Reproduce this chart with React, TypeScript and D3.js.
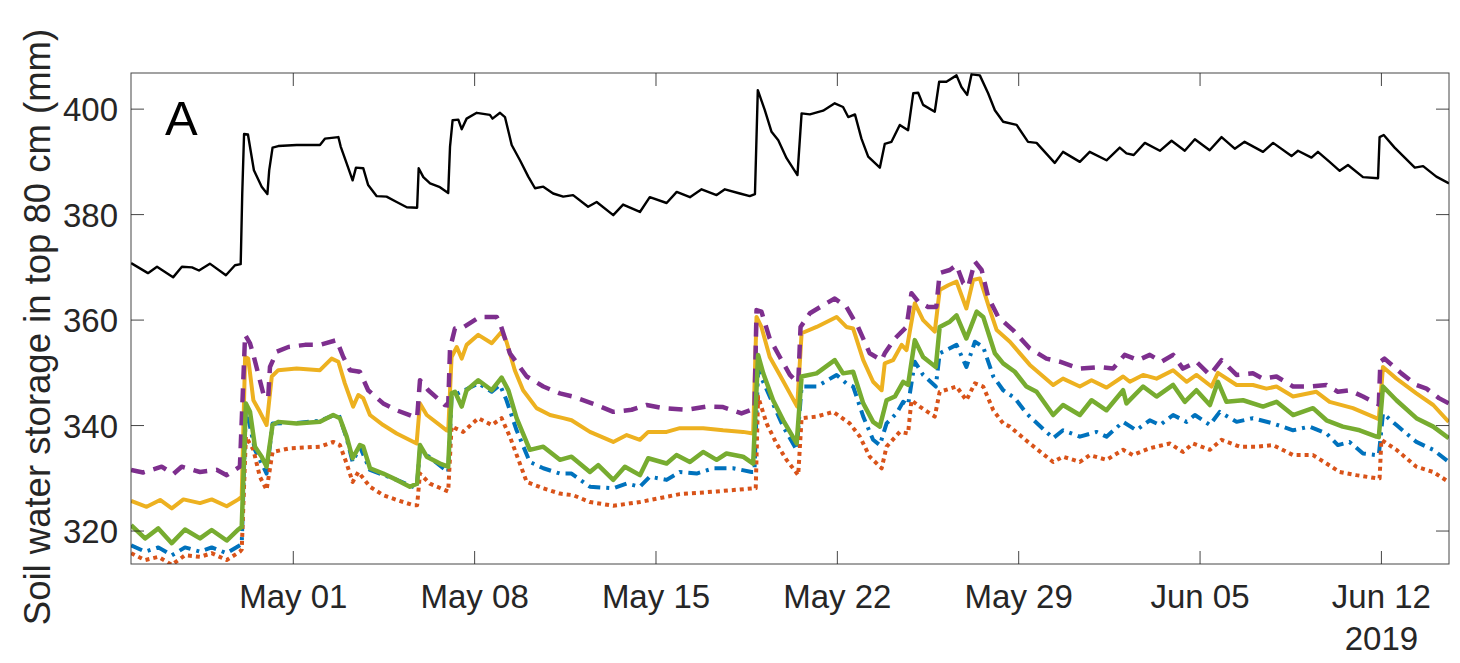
import React from 'react';
import * as d3 from 'd3';

// Time is stored as fractional days since 2019-04-30 00:00 (so 1 = May 01)
const BASE = Date.UTC(2019, 3, 30);
const DAY = 86400000;
const toDate = (d: number) => new Date(BASE + d * DAY);

const xDomainDays = [-5.264, 45.609];
const yDomain = [313.75, 406.85];
const xTickDays = [1, 8, 15, 22, 29, 36, 43];
const xTickLabels = ['May 01', 'May 08', 'May 15', 'May 22', 'May 29', 'Jun 05', 'Jun 12'];
const yTicks = [320, 340, 360, 380, 400];
const yearLabel = '2019';
const panelLabel = 'A';
const yLabel = 'Soil water storage in top 80 cm (mm)';

const blackT = [-5.26, -4.61, -4.26, -3.64, -3.30, -2.91, -2.64, -2.22, -1.60, -1.25, -1.03, -0.97, -0.90, -0.75, -0.52, -0.22, 0.0, 0.07, 0.20, 0.42, 1.13, 2.03, 2.22, 2.74, 2.83, 3.06, 3.29, 3.42, 3.70, 3.89, 4.22, 4.60, 4.99, 5.38, 5.78, 5.84, 6.02, 6.28, 6.66, 6.98, 7.05, 7.15, 7.37, 7.50, 7.69, 8.08, 8.59, 8.69, 8.98, 9.17, 9.43, 9.75, 10.07, 10.33, 10.65, 11.03, 11.42, 11.80, 12.38, 12.71, 13.35, 13.73, 14.38, 14.76, 15.41, 15.80, 16.31, 16.76, 17.34, 17.66, 18.24, 18.62, 18.82, 18.93, 19.20, 19.46, 19.72, 20.04, 20.46, 20.62, 20.94, 21.45, 21.90, 22.22, 22.42, 22.68, 22.93, 23.19, 23.64, 23.83, 24.09, 24.41, 24.73, 24.93, 25.12, 25.31, 25.76, 25.93, 26.21, 26.60, 26.79, 27.01, 27.18, 27.50, 27.82, 28.08, 28.40, 28.92, 29.36, 29.69, 30.39, 30.71, 31.36, 31.74, 32.39, 32.90, 33.16, 33.44, 33.87, 34.45, 34.90, 35.41, 35.80, 36.37, 36.83, 37.34, 37.72, 38.43, 38.82, 39.53, 39.78, 40.30, 40.55, 41.00, 41.39, 41.71, 42.29, 42.87, 42.93, 43.09, 43.51, 43.90, 44.29, 44.61, 45.12, 45.61];
const blackV = [370.8, 368.9, 370.1, 368.1, 370.1, 370.0, 369.4, 370.7, 368.5, 370.4, 370.6, 384.0, 395.3, 395.2, 388.4, 385.3, 383.9, 388.4, 392.7, 393.0, 393.2, 393.2, 394.4, 394.7, 392.9, 389.7, 386.5, 388.9, 388.8, 385.6, 383.5, 383.4, 382.4, 381.4, 381.3, 388.8, 387.1, 385.9, 385.2, 384.1, 392.9, 397.9, 398.0, 396.2, 398.2, 399.3, 398.9, 398.2, 399.3, 398.5, 393.2, 390.3, 387.2, 385.0, 385.3, 384.0, 383.4, 383.7, 381.5, 382.4, 379.9, 381.9, 380.5, 383.3, 382.2, 384.3, 383.3, 384.8, 383.7, 384.8, 384.0, 383.5, 383.9, 403.6, 399.8, 395.7, 394.1, 390.7, 387.5, 399.2, 399.0, 399.7, 401.1, 400.4, 398.5, 399.0, 394.4, 391.0, 388.9, 393.4, 393.8, 397.0, 396.0, 403.0, 403.1, 400.8, 399.5, 405.2, 405.2, 406.4, 404.2, 402.7, 406.6, 406.4, 403.0, 399.8, 397.6, 397.0, 393.8, 393.6, 389.8, 391.9, 390.0, 391.9, 390.3, 392.7, 391.6, 391.3, 393.6, 392.1, 394.0, 392.1, 394.3, 392.2, 394.7, 392.5, 393.8, 391.9, 393.6, 391.1, 392.1, 390.8, 391.9, 390.0, 388.3, 389.4, 387.1, 386.9, 394.7, 395.1, 392.7, 390.8, 388.9, 389.2, 387.2, 385.9];

const blueT = [-5.26, -4.72, -4.21, -3.69, -3.18, -2.60, -2.15, -1.57, -1.06, -0.99, -0.83, -0.48, -0.03, 0.20, 1.13, 2.03, 2.74, 3.06, 3.29, 3.57, 3.96, 4.99, 5.76, 5.89, 6.98, 7.11, 8.14, 8.66, 8.98, 9.23, 9.62, 10.13, 10.65, 11.29, 11.74, 12.45, 13.35, 13.87, 14.38, 14.76, 15.41, 15.92, 16.57, 17.21, 17.98, 18.69, 18.80, 18.94, 19.39, 19.91, 20.43, 20.62, 21.20, 21.97, 22.35, 22.61, 23.00, 23.38, 23.64, 23.90, 24.28, 24.54, 24.73, 24.99, 25.31, 25.80, 25.95, 26.60, 26.98, 27.31, 27.63, 28.02, 28.40, 28.85, 29.30, 30.33, 30.71, 31.36, 32.00, 32.39, 33.03, 33.54, 34.06, 34.45, 34.96, 35.48, 35.80, 36.38, 36.76, 37.41, 38.04, 38.82, 39.59, 40.23, 40.88, 41.32, 41.77, 42.29, 42.81, 42.90, 43.06, 43.58, 44.35, 45.00, 45.60];
const blueV = [317.3, 316.1, 316.9, 315.4, 316.9, 316.1, 316.9, 315.8, 317.3, 317.5, 343.6, 335.4, 330.9, 340.4, 340.5, 340.9, 342.3, 337.6, 333.1, 336.0, 331.6, 329.7, 328.1, 335.4, 331.2, 345.5, 348.0, 346.4, 347.7, 344.8, 339.1, 333.1, 331.9, 330.9, 330.9, 328.4, 328.1, 329.0, 328.4, 330.3, 329.7, 331.2, 330.9, 331.9, 331.9, 331.2, 331.2, 350.5, 345.5, 339.8, 335.4, 347.4, 347.4, 349.6, 348.0, 347.4, 341.7, 337.3, 336.3, 340.4, 342.3, 344.5, 343.9, 352.1, 349.6, 347.4, 353.7, 355.3, 351.1, 355.9, 354.9, 349.3, 346.7, 345.2, 342.3, 337.6, 339.1, 337.9, 338.8, 337.9, 340.7, 339.1, 341.0, 340.1, 342.0, 340.7, 342.0, 340.1, 342.6, 340.7, 341.4, 340.4, 339.1, 339.8, 338.5, 336.3, 336.9, 334.7, 334.4, 334.4, 342.3, 340.1, 336.9, 335.4, 333.1];

const orangeT = [-5.26, -4.72, -4.21, -3.69, -3.18, -2.60, -2.15, -1.57, -1.06, -0.99, -0.83, -0.54, -0.29, -0.03, 0.20, 0.87, 2.03, 2.54, 2.80, 3.06, 3.29, 3.51, 3.96, 4.47, 4.99, 5.63, 5.78, 5.89, 6.27, 6.98, 7.11, 7.56, 8.14, 8.66, 9.04, 9.36, 10.01, 10.65, 11.29, 11.80, 12.45, 13.35, 14.38, 15.92, 17.34, 18.75, 18.85, 18.94, 19.27, 19.65, 20.04, 20.49, 20.62, 21.20, 21.84, 22.48, 22.87, 23.25, 23.71, 23.90, 24.41, 24.73, 24.86, 25.18, 25.76, 25.95, 26.60, 26.98, 27.31, 27.63, 28.02, 28.40, 28.66, 29.43, 30.33, 30.71, 31.36, 31.74, 32.39, 33.03, 33.41, 34.06, 34.83, 35.34, 35.73, 36.38, 36.83, 37.53, 38.17, 38.82, 39.59, 40.36, 40.88, 41.39, 42.03, 42.81, 42.93, 43.00, 43.58, 44.35, 45.00, 45.60];
const orangeV = [315.8, 314.5, 315.1, 313.6, 315.4, 315.1, 315.8, 314.5, 316.1, 316.5, 337.9, 335.4, 330.3, 327.8, 335.0, 335.7, 336.0, 336.9, 336.3, 332.8, 329.3, 331.2, 328.4, 326.8, 325.9, 324.9, 324.9, 330.9, 329.0, 327.5, 339.8, 338.8, 341.4, 340.1, 341.4, 337.9, 329.3, 328.1, 327.1, 326.8, 325.5, 324.8, 325.5, 327.0, 327.5, 328.1, 328.1, 345.5, 340.4, 336.6, 333.5, 330.6, 341.4, 341.7, 342.6, 340.4, 337.9, 334.1, 331.9, 336.0, 338.8, 338.5, 344.8, 343.6, 341.7, 346.4, 347.4, 344.8, 348.0, 347.4, 342.9, 340.4, 339.8, 336.6, 333.1, 334.1, 333.1, 334.4, 333.5, 335.4, 334.4, 335.7, 336.6, 335.0, 336.6, 335.4, 337.3, 336.0, 336.0, 336.3, 334.4, 334.4, 332.8, 331.2, 330.6, 330.0, 330.0, 337.3, 335.4, 332.2, 331.2, 329.3];

const yellowT = [-5.26, -4.66, -4.14, -3.69, -3.24, -2.60, -2.15, -1.57, -1.12, -0.99, -0.86, -0.74, -0.54, -0.29, -0.03, 0.17, 0.42, 1.13, 2.03, 2.48, 2.74, 2.99, 3.31, 3.51, 3.70, 3.96, 4.47, 4.99, 5.76, 5.89, 6.15, 6.92, 6.98, 7.11, 7.31, 7.50, 7.69, 8.14, 8.66, 9.04, 9.23, 9.55, 9.87, 10.39, 10.91, 11.42, 11.74, 12.45, 13.35, 13.87, 14.38, 14.70, 15.41, 15.92, 16.82, 17.59, 18.36, 18.75, 18.88, 19.07, 19.39, 19.78, 20.17, 20.45, 20.62, 21.20, 21.97, 22.35, 22.61, 23.00, 23.38, 23.71, 23.83, 24.15, 24.48, 24.67, 24.99, 25.31, 25.76, 25.95, 26.28, 26.60, 26.98, 27.24, 27.50, 27.89, 28.15, 28.66, 29.43, 30.33, 30.71, 31.36, 31.81, 32.39, 33.03, 33.29, 33.80, 34.32, 34.96, 35.48, 35.86, 36.44, 36.69, 37.41, 38.04, 38.56, 38.95, 39.59, 40.49, 41.00, 41.90, 42.81, 42.90, 43.06, 43.58, 44.35, 45.00, 45.60];
const yellowV = [325.7, 324.6, 325.9, 324.3, 326.0, 325.3, 326.0, 324.7, 326.0, 326.5, 353.0, 352.7, 344.8, 342.6, 340.1, 349.3, 350.5, 350.8, 350.5, 352.7, 352.1, 348.0, 343.6, 345.8, 345.2, 342.0, 340.1, 338.5, 336.6, 344.2, 342.0, 339.1, 339.0, 353.0, 354.9, 352.7, 355.3, 357.2, 355.6, 357.8, 355.9, 350.5, 346.7, 343.3, 342.0, 341.4, 341.0, 338.8, 336.9, 338.2, 337.3, 338.8, 338.8, 339.5, 339.5, 339.1, 338.8, 338.5, 360.6, 358.7, 353.0, 349.6, 346.1, 343.6, 357.5, 358.7, 360.6, 358.7, 358.4, 352.4, 348.3, 346.7, 351.8, 352.4, 355.3, 354.3, 363.2, 360.0, 357.8, 365.7, 366.6, 367.3, 362.2, 367.6, 367.9, 361.9, 358.1, 355.9, 351.5, 347.7, 348.9, 347.4, 348.6, 347.2, 349.3, 348.3, 349.6, 348.9, 350.5, 348.3, 349.6, 347.4, 350.0, 347.7, 347.7, 347.0, 347.4, 345.5, 346.4, 344.5, 343.3, 341.4, 341.2, 351.1, 348.9, 346.1, 343.9, 340.7];

const purpleT = [-5.26, -4.80, -4.08, -3.63, -3.31, -2.60, -1.96, -1.57, -1.06, -0.86, -0.67, -0.54, -0.16, 0.03, 0.10, 0.36, 0.81, 1.45, 2.03, 2.67, 2.93, 3.19, 3.57, 3.89, 4.47, 4.99, 5.63, 5.78, 5.89, 6.21, 6.85, 6.98, 7.05, 7.24, 7.56, 8.20, 8.85, 8.98, 9.36, 10.01, 10.65, 11.29, 11.80, 12.71, 13.35, 14.06, 14.64, 15.28, 16.18, 16.95, 17.59, 18.30, 18.69, 18.80, 18.88, 19.07, 19.39, 19.78, 20.17, 20.49, 20.58, 20.94, 21.58, 21.90, 22.35, 22.80, 23.25, 23.71, 23.83, 24.22, 24.67, 24.86, 25.12, 25.50, 25.82, 25.95, 26.34, 26.60, 26.86, 27.05, 27.31, 27.57, 27.82, 28.21, 28.78, 29.43, 30.07, 30.59, 31.36, 32.13, 32.64, 33.09, 33.61, 34.06, 34.51, 34.96, 35.34, 35.86, 36.38, 36.83, 37.41, 38.04, 38.43, 38.95, 39.59, 40.23, 40.88, 41.32, 41.77, 42.29, 42.81, 42.90, 42.96, 43.12, 43.77, 44.35, 44.74, 45.22, 45.60];
const purpleV = [331.6, 331.1, 332.2, 330.8, 332.2, 331.2, 331.6, 330.6, 332.2, 357.2, 355.6, 353.4, 346.1, 345.2, 351.1, 354.0, 354.9, 355.3, 355.3, 356.2, 353.0, 350.5, 350.2, 346.7, 344.2, 342.9, 341.7, 341.5, 348.6, 346.7, 343.9, 343.8, 354.6, 358.4, 358.6, 360.6, 360.6, 359.4, 353.7, 349.3, 347.4, 346.1, 345.5, 343.9, 342.6, 343.0, 343.9, 343.3, 343.0, 343.6, 343.5, 342.3, 343.0, 343.0, 361.9, 361.6, 356.5, 353.0, 349.6, 348.0, 358.7, 361.3, 363.2, 364.1, 362.5, 358.7, 353.7, 352.4, 353.7, 356.5, 358.7, 365.1, 363.5, 362.5, 362.5, 368.9, 369.5, 370.4, 367.0, 366.3, 371.1, 369.5, 364.4, 360.6, 358.1, 354.6, 352.7, 352.1, 350.8, 351.1, 350.8, 353.4, 352.4, 353.4, 352.1, 353.4, 350.8, 352.1, 349.6, 352.4, 349.6, 349.9, 348.9, 349.3, 347.4, 347.4, 347.7, 346.4, 346.7, 345.5, 344.2, 344.0, 352.1, 352.7, 349.9, 347.7, 347.0, 345.2, 344.2];

const greenT = [-5.26, -4.72, -4.21, -3.69, -3.18, -2.60, -2.15, -1.57, -1.12, -0.99, -0.83, -0.67, -0.48, -0.22, -0.03, 0.20, 0.42, 1.13, 2.03, 2.54, 2.80, 3.06, 3.29, 3.57, 3.70, 3.96, 4.47, 4.99, 5.50, 5.78, 5.89, 6.15, 6.66, 6.98, 7.11, 7.24, 7.50, 7.69, 8.14, 8.66, 9.04, 9.30, 9.62, 10.13, 10.65, 11.29, 11.74, 12.45, 12.77, 13.35, 13.80, 14.38, 14.70, 15.41, 15.79, 16.31, 16.82, 17.34, 17.72, 18.36, 18.75, 18.94, 19.14, 19.52, 19.91, 20.43, 20.62, 21.20, 21.90, 22.22, 22.61, 23.00, 23.38, 23.64, 23.90, 24.22, 24.54, 24.73, 24.99, 25.31, 25.80, 25.95, 26.34, 26.60, 26.98, 27.38, 27.63, 28.08, 28.40, 28.85, 29.30, 29.69, 30.33, 30.71, 31.36, 31.81, 32.39, 33.03, 33.16, 33.80, 34.32, 34.96, 35.41, 35.86, 36.38, 36.69, 37.02, 37.66, 38.43, 38.95, 39.59, 40.36, 40.88, 41.51, 42.16, 42.81, 42.90, 43.06, 43.58, 44.35, 45.00, 45.60];
const greenV = [321.1, 318.6, 320.5, 317.7, 320.3, 318.6, 320.2, 318.2, 320.3, 320.8, 344.2, 342.6, 336.0, 334.1, 332.2, 340.1, 340.7, 340.4, 340.7, 342.0, 341.4, 337.9, 333.8, 336.3, 336.0, 331.9, 330.9, 329.7, 328.4, 329.0, 336.3, 334.1, 332.8, 332.2, 346.1, 346.4, 343.6, 346.7, 348.6, 346.7, 349.1, 346.7, 341.4, 335.4, 336.0, 333.5, 334.1, 331.2, 332.5, 329.7, 332.2, 330.6, 333.8, 332.8, 334.4, 333.1, 335.0, 333.5, 334.7, 334.1, 332.8, 353.4, 349.9, 344.8, 341.0, 336.6, 349.3, 349.9, 352.4, 349.9, 350.2, 344.2, 340.7, 339.8, 344.8, 345.5, 348.3, 347.7, 356.2, 353.0, 351.1, 358.7, 359.7, 360.9, 356.5, 361.6, 360.6, 353.7, 351.8, 350.2, 347.4, 346.4, 342.0, 343.9, 342.0, 344.8, 342.9, 346.7, 344.2, 347.4, 345.5, 347.7, 344.5, 346.7, 343.9, 348.3, 344.5, 344.8, 343.6, 344.5, 342.0, 343.3, 341.0, 339.8, 339.1, 337.9, 337.8, 347.4, 344.8, 341.4, 339.8, 337.6];

const series = [
  { name: 'blue', t: blueT, v: blueV, color: '#0072BD', width: 4, dash: '12,6,3,6' },
  { name: 'orange', t: orangeT, v: orangeV, color: '#D95319', width: 4, dash: '4,4' },
  { name: 'yellow', t: yellowT, v: yellowV, color: '#EDB120', width: 4, dash: '' },
  { name: 'purple', t: purpleT, v: purpleV, color: '#7E2F8E', width: 4.5, dash: '14,9' },
  { name: 'green', t: greenT, v: greenV, color: '#77AC30', width: 4.5, dash: '' },
];

const L = 131, R = 1449, T = 73, B = 564;
const FONT = '"Liberation Sans", Arial, Helvetica, sans-serif';
const AX = '#262626';
const TICK = 13;

export default function App() {
  const x = d3.scaleUtc().domain([toDate(xDomainDays[0]), toDate(xDomainDays[1])]).range([L, R]);
  const y = d3.scaleLinear().domain(yDomain).range([B, T]);
  const mk = (t: number[], v: number[]) => {
    const pts = t.map((d, i) => [toDate(d), v[i]] as [Date, number]);
    return d3.line<[Date, number]>().x(p => x(p[0])).y(p => y(p[1]))(pts) || '';
  };
  return (
    <svg width={1460} height={663} style={{ position: 'absolute', left: 0, top: 0, background: '#fff' }} fontFamily={FONT}>
      <defs>
        <clipPath id="plotclip"><rect x={L} y={T} width={R - L} height={B - T} /></clipPath>
      </defs>
      <rect x={0} y={0} width={1460} height={663} fill="#fff" />
      <g clipPath="url(#plotclip)">
        <path d={mk(blackT, blackV)} fill="none" stroke="#000" strokeWidth={2.4} strokeLinejoin="round" />
        {series.map(s => (
          <path key={s.name} d={mk(s.t, s.v)} fill="none" stroke={s.color} strokeWidth={s.width}
            strokeDasharray={s.dash || undefined} strokeLinejoin="round" />
        ))}
      </g>
      <rect x={L} y={T} width={R - L} height={B - T} fill="none" stroke={AX} strokeWidth={1} opacity={0.85} />
      {xTickDays.map((d, i) => {
        const px = x(toDate(d));
        return (
          <g key={'xt' + i}>
            <line x1={px} x2={px} y1={B} y2={B - TICK} stroke={AX} strokeWidth={1} opacity={0.85} />
            <line x1={px} x2={px} y1={T} y2={T + TICK} stroke={AX} strokeWidth={1} opacity={0.85} />
            <text x={px} y={608} textAnchor="middle" fontSize={33} fill={AX}>{xTickLabels[i]}</text>
          </g>
        );
      })}
      <text x={x(toDate(xTickDays[xTickDays.length - 1]))} y={650} textAnchor="middle" fontSize={33} fill={AX}>{yearLabel}</text>
      {yTicks.map((v, i) => {
        const py = y(v);
        return (
          <g key={'yt' + i}>
            <line x1={L} x2={L + TICK} y1={py} y2={py} stroke={AX} strokeWidth={1} opacity={0.85} />
            <line x1={R} x2={R - TICK} y1={py} y2={py} stroke={AX} strokeWidth={1} opacity={0.85} />
            <text x={118} y={py + 12} textAnchor="end" fontSize={33} fill={AX}>{v}</text>
          </g>
        );
      })}
      <text transform={`translate(50,${327}) rotate(-90)`} textAnchor="middle" fontSize={36.5} fill={AX}>{yLabel}</text>
      <text x={165} y={135} fontSize={49} fill="#000">{panelLabel}</text>
    </svg>
  );
}
